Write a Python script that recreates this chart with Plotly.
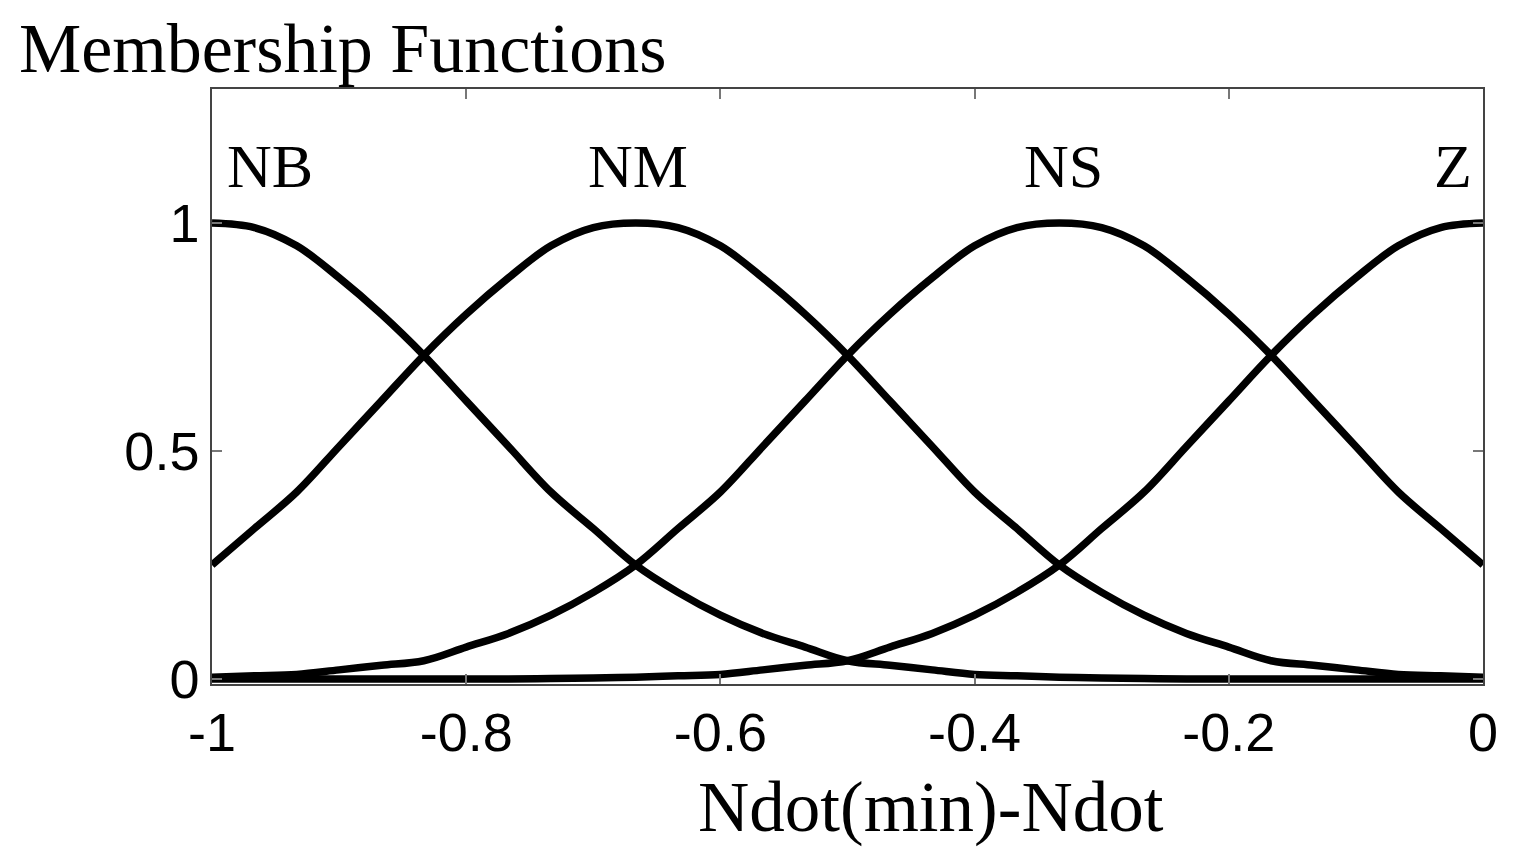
import plotly.graph_objects as go

# x samples (universe of discourse)
x_vals = [-1 + i / 30 for i in range(31)]

# membership degrees
NB = [1.00, 0.99, 0.95, 0.88, 0.80, 0.71, 0.61, 0.51, 0.41, 0.33,
      0.25, 0.19, 0.14, 0.10, 0.07, 0.04, 0.03, 0.02, 0.01, 0.007,
      0.004, 0.002, 0.001, 0.0, 0.0, 0.0, 0.0, 0.0, 0.0, 0.0, 0.0]
NM = [0.25, 0.33, 0.41, 0.51, 0.61, 0.71, 0.80, 0.88, 0.95, 0.99,
      1.00, 0.99, 0.95, 0.88, 0.80, 0.71, 0.61, 0.51, 0.41, 0.33,
      0.25, 0.19, 0.14, 0.10, 0.07, 0.04, 0.03, 0.02, 0.01, 0.007, 0.004]
NS = [0.004, 0.007, 0.01, 0.02, 0.03, 0.04, 0.07, 0.10, 0.14, 0.19,
      0.25, 0.33, 0.41, 0.51, 0.61, 0.71, 0.80, 0.88, 0.95, 0.99,
      1.00, 0.99, 0.95, 0.88, 0.80, 0.71, 0.61, 0.51, 0.41, 0.33, 0.25]
Z = [0.0, 0.0, 0.0, 0.0, 0.0, 0.0, 0.0, 0.0, 0.001, 0.002,
     0.004, 0.007, 0.01, 0.02, 0.03, 0.04, 0.07, 0.10, 0.14, 0.19,
     0.25, 0.33, 0.41, 0.51, 0.61, 0.71, 0.80, 0.88, 0.95, 0.99, 1.00]

series = {"NB": NB, "NM": NM, "NS": NS, "Z": Z}
label_names = ["NB", "NM", "NS", "Z"]
label_x = [-0.954, -0.665, -0.33, -0.024]
label_y = [1.125, 1.125, 1.125, 1.125]

x_ticks = [-1, -0.8, -0.6, -0.4, -0.2, 0]
x_ticktext = ["-1", "-0.8", "-0.6", "-0.4", "-0.2", "0"]
y_ticks = [0, 0.5, 1]
y_ticktext = ["0", "0.5", "1"]

title_text = "Membership Functions"
xlabel_text = "Ndot(min)-Ndot"

serif = "Liberation Serif, Times New Roman, serif"
sans = "Liberation Sans, Arial, sans-serif"

fig = go.Figure()
for name, vals in series.items():
    fig.add_trace(go.Scatter(
        x=x_vals, y=vals, mode="lines", name=name,
        line=dict(color="black", width=7.5, shape="spline", smoothing=1.0),
        showlegend=False, hoverinfo="skip"))

for nm, lx, ly in zip(label_names, label_x, label_y):
    fig.add_annotation(x=lx, y=ly, xref="x", yref="y", text=nm,
                       showarrow=False, font=dict(family=serif, size=62, color="black"))

fig.add_annotation(x=-0.1530, y=1.135, xref="paper", yref="paper", text=title_text,
                   xanchor="left", yanchor="top", showarrow=False, borderpad=0,
                   font=dict(family=serif, size=70, color="black"))
fig.add_annotation(x=-0.434, y=-0.207, xref="x", yref="paper", text=xlabel_text,
                   xanchor="center", yanchor="middle", showarrow=False,
                   font=dict(family=serif, size=71, color="black"))

fig.update_layout(
    width=1528, height=864,
    margin=dict(l=204, r=53, t=81, b=188, autoexpand=False),
    paper_bgcolor="white", plot_bgcolor="white",
)
fig.update_xaxes(range=[-1, 0], tickvals=x_ticks, ticktext=x_ticktext,
                 showgrid=False, zeroline=False, showline=True, linecolor="#444",
                 linewidth=1.5, mirror="ticks", ticks="inside", ticklen=10,
                 tickcolor="#777", tickwidth=1.5,
                 tickfont=dict(family=sans, size=54, color="black"))
fig.update_yaxes(range=[-0.011, 1.294], tickvals=y_ticks, ticktext=y_ticktext,
                 showgrid=False, zeroline=False, showline=True, linecolor="#444",
                 linewidth=1.5, mirror="ticks", ticks="inside", ticklen=10,
                 tickcolor="#777", tickwidth=1.5,
                 tickfont=dict(family=sans, size=54, color="black"))

fig.write_html("out.html")
